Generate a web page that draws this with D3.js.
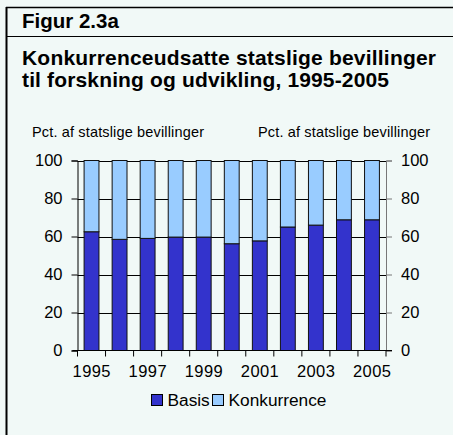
<!DOCTYPE html>
<html><head><meta charset="utf-8">
<script src="https://cdn.jsdelivr.net/npm/d3@7"></script>
<style>
html,body{margin:0;padding:0;background:#F1F9F7;}
svg{display:block;font-family:"Liberation Sans",Arial,sans-serif;}
</style></head>
<body><svg id="c" width="453" height="435"></svg>
<script>
const years = ["1995","1996","1997","1998","1999","2000","2001","2002","2003","2004","2005"];
const basis = [62.5,58.5,59.0,59.7,59.7,56.2,57.7,65.0,66.0,68.8,68.8];
const konkurrence = [37.5,41.5,41.0,40.3,40.3,43.8,42.3,35.0,34.0,31.2,31.2];
const yTicks = [0,20,40,60,80,100];
const xLabels = ["1995","1997","1999","2001","2003","2005"];
const seriesNames = ["Basis","Konkurrence"];
const colors = ["#3333CC","#99CCFF"];

const svg = d3.select("#c");
svg.append("rect").attr("width",453).attr("height",435).attr("fill","#F1F9F7");
// frame
svg.append("line").attr("x1",6).attr("x2",453).attr("y1",7.5).attr("y2",7.5).attr("stroke","#000").attr("stroke-width",1.5);
svg.append("line").attr("x1",6.5).attr("x2",6.5).attr("y1",7).attr("y2",435).attr("stroke","#000").attr("stroke-width",2);
svg.append("line").attr("x1",6).attr("x2",453).attr("y1",36.5).attr("y2",36.5).attr("stroke","#000").attr("stroke-width",1);

svg.append("text").attr("x",22).attr("y",28).attr("font-size",20.5).attr("font-weight","bold").text("Figur 2.3a");
svg.append("text").attr("x",22).attr("y",65).attr("font-size",21).attr("font-weight","bold").attr("textLength",414).text("Konkurrenceudsatte statslige bevillinger");
svg.append("text").attr("x",22).attr("y",87).attr("font-size",21).attr("font-weight","bold").attr("textLength",367).text("til forskning og udvikling, 1995-2005");

svg.append("text").attr("x",32).attr("y",137).attr("font-size",14.5).attr("textLength",172).text("Pct. af statslige bevillinger");
svg.append("text").attr("x",258).attr("y",137).attr("font-size",14.5).attr("textLength",172).text("Pct. af statslige bevillinger");

const L=77.5, R=386, T=160.5, B=350.5;
const x = d3.scaleBand().domain(years).range([L,R]).paddingInner(0.47).paddingOuter(0.235);
const y = d3.scaleLinear().domain([0,100]).range([B,T]);

// gridlines
svg.append("g").selectAll("line").data(yTicks.filter(d=>d>0)).join("line")
  .attr("x1",L).attr("x2",R).attr("y1",d=>Math.round(y(d))+0.5).attr("y2",d=>Math.round(y(d))+0.5)
  .attr("stroke","#000").attr("stroke-width",1);

const stack = d3.stack().keys([0,1]).value((d,k)=>k===0?basis[d]:konkurrence[d]);
const series = stack(d3.range(years.length));
svg.append("g").selectAll("g").data(series).join("g").attr("fill",(d,i)=>colors[i])
  .selectAll("rect").data(d=>d).join("rect")
  .attr("x",(d,i)=>x(years[i])).attr("width",x.bandwidth())
  .attr("y",d=>y(d[1])).attr("height",d=>y(d[0])-y(d[1]))
  .attr("stroke","#111").attr("stroke-width",1);

// left axis
const la = svg.append("g").attr("transform",`translate(${L},0)`)
  .call(d3.axisLeft(y).tickValues(yTicks).tickSize(6).tickPadding(9));
la.select(".domain").attr("stroke","#000");
la.selectAll("line").attr("stroke","#000");
la.selectAll("text").attr("font-size",16.5).attr("font-family","Liberation Sans, Arial, sans-serif").attr("fill","#000");

// right axis
const ra = svg.append("g").attr("transform",`translate(${R},0)`)
  .call(d3.axisRight(y).tickValues(yTicks).tickSize(6).tickPadding(9));
ra.select(".domain").attr("stroke","#777");
ra.selectAll("line").attr("stroke","#777");
ra.selectAll("text").attr("font-size",16.5).attr("font-family","Liberation Sans, Arial, sans-serif").attr("fill","#000");

// bottom axis
const xb = d3.scalePoint().domain(d3.range(years.length+1)).range([L,R]);
const ba = svg.append("g").attr("transform",`translate(0,${B})`);
ba.append("line").attr("x1",L-5).attr("x2",R+6).attr("stroke","#000");
ba.selectAll("line.t").data(d3.range(years.length+1)).join("line").attr("class","t")
  .attr("x1",d=>xb(d)).attr("x2",d=>xb(d)).attr("y1",0).attr("y2",6).attr("stroke","#000");
ba.selectAll("text").data(xLabels).join("text")
  .attr("x",d=>x(d)+x.bandwidth()/2).attr("y",26).attr("text-anchor","middle")
  .attr("font-size",16.5).attr("textLength",38).text(d=>d);

// legend
const lg = svg.append("g");
const lpos = [151,212];
seriesNames.forEach((n,i)=>{
  lg.append("rect").attr("x",lpos[i]+0.5).attr("y",394.5).attr("width",11).attr("height",11)
    .attr("fill",colors[i]).attr("stroke","#000");
  lg.append("text").attr("x",lpos[i]+16.5).attr("y",405.5).attr("font-size",17.3).text(n);
});
</script></body></html>
